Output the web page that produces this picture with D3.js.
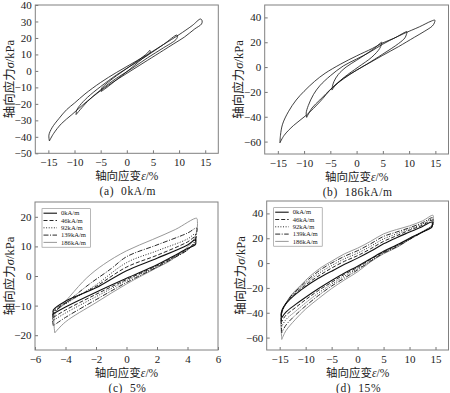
<!DOCTYPE html>
<html>
<head>
<meta charset="utf-8">
<script src="https://cdn.jsdelivr.net/npm/d3@7"></script>
<style>
body { margin: 0; background: #fff; }
svg { display: block; }
</style>
</head>
<body>
<svg id="canvas" width="450" height="393"></svg>
<script>
// tick values
var strainTicks15 = [-15, -10, -5, 0, 5, 10, 15];
var strainTicks5 = [-6, -4, -2, 0, 2, 4, 6];
var stressTicksA = [-50, -40, -30, -20, -10, 0, 10, 20, 30, 40];
var stressTicksB = [-60, -40, -20, 0, 20, 40];
var stressTicksC = [-20, -10, 0, 10, 20];

var fieldLabels = ['0kA/m', '46kA/m', '92kA/m', '139kA/m', '186kA/m'];
var captions = ['(a)  0kA/m', '(b)  186kA/m', '(c)  5%', '(d)  15%'];

// (a) 0kA/m, loops at 5 / 10 / 15 % strain  [strain %, stress kPa]
var loopA5 = [[-4.9,-12.5],[-4.8,-10.5],[-4,-8],[-2,-3],[0,1.5],[2,6],[4,11],[4.4,12.5],
  [4.5,11.8],[4.4,10.8],[3,7.5],[1.5,3.5],[0,-0.5],[-2,-5.5],[-4,-10.5],[-4.9,-12.5]];
var loopA10 = [[-9.7,-26.5],[-9.6,-24],[-9,-21],[-7.5,-16],[-5,-9.5],[-2,-2.5],[1,3.5],[4,9.5],[7,16],[9.6,21.8],
  [9.7,21],[9.4,19],[7,14],[4,8],[1,1.5],[-2,-4.5],[-5,-11.5],[-7.5,-18.5],[-9.7,-26.5]];
var loopA15 = [[-14.8,-42.5],[-14.9,-39],[-14.3,-34.5],[-13,-29],[-11.5,-23.5],[-10,-19.5],[-8,-14],[-5,-7],[-2,-1],[1,4.5],[4,10],[7,16],[10,22],[12.5,27.5],[14.1,31.5],
  [14.4,30.5],[14.3,28.5],[13,25.5],[11,20.5],[9,16.5],[7,12.5],[4,6.5],[1,0.5],[-2,-5.5],[-5,-12],[-8,-19.5],[-10.5,-26.5],[-12.5,-32],[-14,-38],[-14.8,-42.5]];

// (b) 186kA/m
var loopB5 = [[-4.7,-18.5],[-4.6,-15.5],[-4.3,-11.5],[-3.5,-6],[-2,0],[0,5.5],[2,11],[3.5,15.5],[4.8,20],
  [4.7,18],[4.4,15],[2.9,8],[0.3,0],[-2.3,-8],[-4,-14.5],[-4.7,-18.5]];
var loopB10 = [[-9.5,-40.5],[-9.6,-37],[-9.2,-31],[-8.2,-22],[-7,-15],[-5,-7],[-2.5,1],[0,6.5],[2.5,12],[5,18.5],[7.5,24],[9.6,28.5],
  [9.5,26.5],[9.2,23.5],[8,19],[5,10.5],[2,2.5],[0,-2.5],[-2.5,-9],[-4.6,-16.5],[-7,-26.5],[-8.5,-33],[-9.5,-40.5]];
var loopB15 = [[-14.6,-61],[-14.5,-55],[-14.1,-46],[-13,-36],[-11.5,-26.5],[-10,-19.5],[-8,-11.5],[-6,-5],[-3,2.5],[0,9],[3,15],[5,19.5],[7,23],[9,27],[12,32.5],[14.2,37],[14.9,37.8],
  [14.8,35.5],[14.4,33],[13,29],[11,24],[8,16.5],[5,9.5],[2.5,3.5],[0,-2.5],[-2.5,-9.5],[-4.6,-16.5],[-7,-28],[-9.5,-38.5],[-12,-47],[-13.8,-55],[-14.6,-61]];

// (c) 5% strain, five field strengths
var loopC0 = [[-4.8,-12.8],[-4.8,-11.5],[-4,-8.5],[-2,-4],[0,1.8],[2,6],[4,10.5],[4.5,12.2],
  [4.55,11.2],[4.5,10.5],[4,9.3],[3,6.5],[2,3.8],[0,-0.8],[-2,-5.5],[-4,-10.5],[-4.8,-12.8]];
var loopC46 = [[-4.8,-14],[-4.8,-12],[-3.8,-8.5],[-2,-3.5],[0,3],[2,7],[4,11.5],[4.5,13.2],
  [4.55,12],[4.5,11],[4,9],[3,6.2],[2,3.5],[0,-1.2],[-2,-6.2],[-4,-11.5],[-4.8,-14]];
var loopC92 = [[-4.8,-15],[-4.8,-12.5],[-3.7,-8.5],[-2,-3],[0,4.5],[2,8.5],[4,12.5],[4.5,14.2],
  [4.55,12.8],[4.5,11.5],[4,8.8],[3,6],[2,3.2],[0,-1.6],[-2,-7],[-4,-12.5],[-4.8,-15]];
var loopC139 = [[-4.8,-16.8],[-4.8,-13],[-3.7,-8],[-2.5,-3],[-1,2.5],[0,6.5],[2,10.5],[4,14.5],[4.6,16.2],
  [4.6,14.5],[4.5,12],[4,8.8],[3,5.8],[2,3],[0,-2.2],[-2,-8],[-4,-14],[-4.8,-16.8]];
var loopC186 = [[-4.7,-19.2],[-4.7,-13],[-3.7,-6.8],[-2.6,-0.6],[-1.5,3.9],[0,8.5],[1.7,12.3],[3.2,15.7],[4.6,19.5],
  [4.65,18.5],[4.6,15],[4.3,11.5],[3,5.6],[2,2.8],[0,-2.7],[-2,-9],[-4,-15.5],[-4.7,-19.2]];

// (d) 15% strain, five field strengths
var loopD0 = [[-14.6,-44],[-14.7,-40],[-14.2,-35],[-13,-29],[-11,-22],[-9,-16],[-7,-11],[-5,-6.5],[-2.5,-1],[0,4],[2.5,9.5],[5,15.5],[7.5,20.5],[10,25],[12.5,29.5],[14.3,33],
  [14.4,31],[14.3,29],[12.5,25],[10,20],[7.5,14.5],[5,9.5],[2.5,3.5],[0,-2.5],[-2.5,-8],[-5,-14],[-7.5,-20.5],[-10,-27.5],[-12,-33.5],[-13.8,-39.5],[-14.6,-44]];
var loopD46 = [[-14.6,-47],[-14.7,-41],[-14.2,-35],[-13,-28.5],[-11,-21],[-9,-14.5],[-7,-9],[-5,-4],[-2.5,1.5],[0,6],[2.5,11.5],[5,17.5],[7.5,22],[10,26.5],[12.5,30.5],[14.3,34.5],
  [14.4,32],[14.3,29.5],[12.5,25],[10,19.5],[7.5,14],[5,9],[2.5,3],[0,-3.5],[-2.5,-9],[-5,-15.5],[-7.5,-22],[-10,-29.5],[-12,-36],[-13.8,-42],[-14.6,-47]];
var loopD92 = [[-14.6,-51],[-14.7,-42],[-14.2,-35.5],[-13,-28],[-11,-20],[-9,-13],[-7,-7],[-5,-2],[-2.5,3.5],[0,8],[2.5,13.5],[5,19.5],[7.5,23.5],[10,27.5],[12.5,31.5],[14.4,35.5],
  [14.5,33],[14.4,30],[12.5,25],[10,19.5],[7.5,13.5],[5,8.5],[2.5,2],[0,-4.5],[-2.5,-10.5],[-5,-17],[-7.5,-24],[-10,-32],[-12,-39],[-13.8,-45.5],[-14.6,-51]];
var loopD139 = [[-14.6,-56],[-14.7,-42],[-14.2,-35.5],[-13,-27.5],[-11,-19],[-9,-11.5],[-7,-5],[-5,0],[-2.5,5.5],[0,10],[2.5,15.5],[5,21.5],[7.5,25],[10,28.5],[12.5,32.5],[14.4,36.5],
  [14.5,34],[14.4,30.5],[12.5,25],[10,19],[7.5,13],[5,8],[2.5,1.5],[0,-5.5],[-2.5,-12],[-5,-18.5],[-7.5,-26],[-10,-34.5],[-12,-42],[-13.8,-50],[-14.6,-56]];
var loopD186 = [[-14.6,-61.5],[-14.7,-42],[-14.2,-36],[-13,-27],[-11,-18],[-9,-10],[-7,-3.5],[-5,1.5],[-2.5,7.5],[0,12],[2.5,17.5],[5,23.5],[7.5,27],[10,30],[12.5,34],[14.5,38.5],
  [14.6,36],[14.5,31],[12.5,25.5],[10,19],[7.5,12.5],[5,7.5],[2.5,1],[0,-7],[-2.5,-13.5],[-5,-20.5],[-7.5,-28.5],[-10,-37],[-12,-45.5],[-13.8,-54.5],[-14.6,-61.5]];

// line styles per field strength (0, 46, 92, 139, 186 kA/m)
var fieldStyles = [
  { color: '#111', width: 1.1, dash: null },
  { color: '#111', width: 0.9, dash: '4,2' },
  { color: '#111', width: 0.9, dash: '1,1.6' },
  { color: '#111', width: 0.9, dash: '5,1.5,1,1.5' },
  { color: '#8c8c8c', width: 0.9, dash: null }
];
var plainStyle = { color: '#111', width: 0.8, dash: null };

var serif = '"Liberation Serif", "Times New Roman", serif';
var cjk = '"Liberation Serif", "Noto Sans CJK SC", serif';

var panels = [
  { left: 35.3, right: 218.3, top: 5, bottom: 153.3, xDomain: [-17.5, 17.5], yDomain: [-50, 40],
    xTicks: strainTicks15, yTicks: stressTicksA, loops: [loopA15, loopA10, loopA5], legend: false, caption: captions[0] },
  { left: 264.7, right: 448.5, top: 5, bottom: 154, xDomain: [-17.5, 17.5], yDomain: [-70, 50],
    xTicks: strainTicks15, yTicks: stressTicksB, loops: [loopB15, loopB10, loopB5], legend: false, caption: captions[1] },
  { left: 35, right: 218, top: 202, bottom: 350, xDomain: [-6, 6], yDomain: [-25, 25],
    xTicks: strainTicks5, yTicks: stressTicksC, loops: [loopC0, loopC46, loopC92, loopC139, loopC186], legend: true, caption: captions[2] },
  { left: 266.7, right: 448.5, top: 201, bottom: 350, xDomain: [-17.5, 17.5], yDomain: [-70, 50],
    xTicks: strainTicks15, yTicks: stressTicksB, loops: [loopD0, loopD46, loopD92, loopD139, loopD186], legend: true, caption: captions[3] }
];

var svg = d3.select('#canvas');
svg.append('rect').attr('width', 450).attr('height', 393).attr('fill', '#fff');

function fmt(v) {
    return v < 0 ? '\u2212' + Math.abs(v) : String(v);
}

function drawPanel(p) {
    var x = d3.scaleLinear().domain(p.xDomain).range([p.left, p.right]);
    var y = d3.scaleLinear().domain(p.yDomain).range([p.bottom, p.top]);
    var g = svg.append('g');

    var xAxis = g.append('g')
        .attr('transform', 'translate(0,' + p.bottom + ')')
        .call(d3.axisBottom(x).tickValues(p.xTicks).tickFormat(fmt)
            .tickSizeInner(-3).tickSizeOuter(0).tickPadding(5));
    var yAxis = g.append('g')
        .attr('transform', 'translate(' + p.left + ',0)')
        .call(d3.axisLeft(y).tickValues(p.yTicks).tickFormat(fmt)
            .tickSizeInner(-3).tickSizeOuter(0).tickPadding(3.5));

    [xAxis, yAxis].forEach(function(a) {
        a.select('.domain').remove();
        a.selectAll('.tick line').attr('stroke', '#777');
        a.selectAll('.tick text')
            .attr('fill', '#222')
            .style('font-family', serif)
            .style('font-size', '11px');
    });

    g.append('rect')
        .attr('x', p.left).attr('y', p.top)
        .attr('width', p.right - p.left).attr('height', p.bottom - p.top)
        .attr('fill', 'none').attr('stroke', '#808080').attr('stroke-width', 1);

    var line = d3.line()
        .x(function(d) { return x(d[0]); })
        .y(function(d) { return y(d[1]); })
        .curve(d3.curveCatmullRom.alpha(0.5));

    // grey loop drawn first so the dark ones sit on top
    var order = p.loops.map(function(d, i) { return i; });
    if (p.legend) order.reverse();

    order.forEach(function(i) {
        var st = p.legend ? fieldStyles[i] : plainStyle;
        g.append('path')
            .attr('d', line(p.loops[i]))
            .attr('fill', 'none')
            .attr('stroke', st.color)
            .attr('stroke-width', st.width)
            .attr('stroke-dasharray', st.dash)
            .attr('stroke-linejoin', 'round');
    });

    if (p.legend) {
        var lx = p.left + 7, ly = p.top + 6.7;
        var lg = g.append('g').attr('transform', 'translate(' + lx + ',' + ly + ')');
        lg.append('rect')
            .attr('width', 48.5).attr('height', 38.5)
            .attr('fill', '#fff').attr('stroke', '#888').attr('stroke-width', 0.6);
        fieldLabels.forEach(function(lab, i) {
            var st = fieldStyles[i];
            var yy = 4.5 + i * 7.3;
            lg.append('line')
                .attr('x1', 1.5).attr('x2', 15).attr('y1', yy).attr('y2', yy)
                .attr('stroke', st.color).attr('stroke-width', st.width)
                .attr('stroke-dasharray', st.dash);
            lg.append('text')
                .attr('x', 19).attr('y', yy + 2.2)
                .style('font-family', serif).style('font-size', '6.6px')
                .attr('fill', '#222')
                .text(lab);
        });
    }

    var cx = (p.left + p.right) / 2;

    // y axis title
    var yt = g.append('text')
        .attr('transform', 'translate(' + (p.left - 21.5) + ',' + ((p.top + p.bottom) / 2) + ') rotate(-90)')
        .attr('text-anchor', 'middle')
        .style('font-family', cjk).style('font-size', '12.5px')
        .attr('fill', '#222');
    yt.append('tspan').text('轴向应力');
    yt.append('tspan').style('font-style', 'italic').text('σ');
    yt.append('tspan').text('/kPa');

    // x axis title
    var xt = g.append('text')
        .attr('x', cx).attr('y', p.bottom + 27)
        .attr('text-anchor', 'middle')
        .style('font-family', cjk).style('font-size', '11.5px')
        .attr('fill', '#222');
    xt.append('tspan').text('轴向应变');
    xt.append('tspan').style('font-style', 'italic').text('ε');
    xt.append('tspan').text('/%');

    g.append('text')
        .attr('x', cx + 1).attr('y', p.bottom + 41.5)
        .attr('text-anchor', 'middle')
        .attr('xml:space', 'preserve')
        .style('white-space', 'pre')
        .style('font-family', serif).style('font-size', '11.5px')
        .style('letter-spacing', '0.6px')
        .attr('fill', '#222')
        .text(p.caption);
}

panels.forEach(drawPanel);
</script>
</body>
</html>
